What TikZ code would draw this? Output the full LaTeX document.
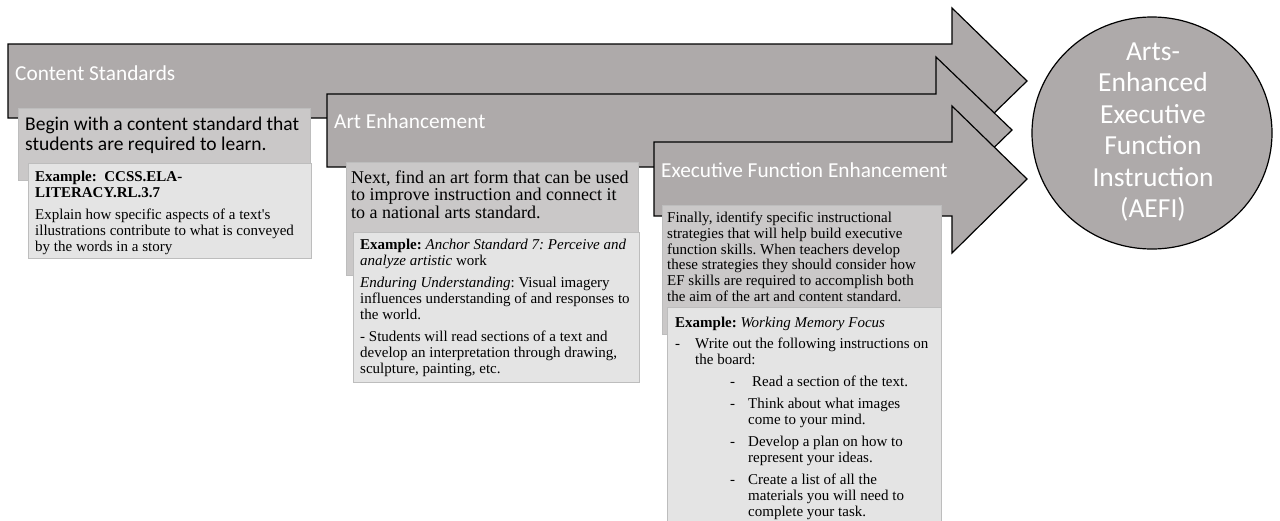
\documentclass[tikz,border=0pt]{standalone}
\usepackage{fontspec}
\setmainfont{Liberation Serif}
\newfontfamily\calibri{Carlito}
\usetikzlibrary{positioning}

\definecolor{arrowgray}{HTML}{AEAAAA}
\definecolor{stepgray}{HTML}{CAC8C8}
\definecolor{examplegray}{HTML}{E4E4E4}
\definecolor{edgegray}{HTML}{BDBDBD}

\begin{document}
\frenchspacing
\begin{tikzpicture}[x=1pt, y=-1pt,
    bigarrow/.style={fill=arrowgray, draw=black, line width=1.2pt, line join=miter},
    stepbox/.style={fill=stepgray, draw=edgegray, line width=0.6pt},
    examplebox/.style={fill=examplegray, draw=edgegray, line width=0.6pt},
    arrowlabel/.style={anchor=base west, inner sep=0pt, text=white,
      font=\calibri\fontsize{21.3}{25}\selectfont},
    steptext/.style={anchor=north west, inner sep=0pt, align=left},
    smalltext/.style={steptext, font=\fontsize{15}{16}\selectfont}]

  \useasboundingbox (0,0) rectangle (1280,520);

  % content standards
  \draw[bigarrow] (8,44) -- (952,44) -- (952,8) -- (1027,81) -- (952,154)
    -- (952,118) -- (8,118) -- cycle;
  \node[arrowlabel] (content) at (15,80) {Content Standards};
  \draw[stepbox] (18,108) rectangle (310,180);
  \node[steptext, font=\calibri\fontsize{19.5}{20.5}\selectfont] (begin) at (25,116.5)
    {Begin with a content standard that\\students are required to learn.};
  \draw[examplebox] (28,163) rectangle (311,258);
  \node[smalltext] (ccss) at (35,171)
    {\textbf{Example:\ \ CCSS.ELA-}\\\textbf{LITERACY.RL.3.7}\\[6pt]
     Explain how specific aspects of a text\textquotesingle s\\
     illustrations contribute to what is conveyed\\
     by the words in a story};

  % art enhancement
  \draw[bigarrow] (327,94) -- (936,94) -- (936,57) -- (1012,130) -- (936,204)
    -- (936,167) -- (327,167) -- cycle;
  \node[arrowlabel] (art) at (334,128) {Art Enhancement};
  \draw[stepbox] (346,162) rectangle (638,275);
  \node[steptext, font=\fontsize{18}{17.6}\selectfont] (next) at (351,170.5)
    {Next, find an art form that can be used\\
     to improve instruction and connect it\\
     to a national arts standard.};
  \draw[examplebox] (353,232) rectangle (639,382);
  \node[smalltext] (anchor7) at (360,239)
    {\textbf{Example:} \textit{Anchor Standard 7: Perceive and}\\
     \textit{analyze artistic} work\\[6pt]
     \textit{Enduring Understanding}: Visual imagery\\
     influences understanding of and responses to\\
     the world.\\[6pt]
     - Students will read sections of a text and\\
     develop an interpretation through drawing,\\
     sculpture, painting, etc.};

  % executive function enhancement
  \draw[bigarrow] (654,142) -- (952,142) -- (952,106) -- (1027,179) -- (952,253)
    -- (952,216) -- (654,216) -- cycle;
  \node[arrowlabel] (ef) at (661,177) {Executive Function Enhancement};
  \draw[stepbox] (662,205) rectangle (941,334);
  \node[steptext, font=\fontsize{15}{15.7}\selectfont] (finally) at (667,212)
    {Finally, identify specific instructional\\
     strategies that will help build executive\\
     function skills. When teachers develop\\
     these strategies they should consider how\\
     EF skills are required to accomplish both\\
     the aim of the art and content standard.};
  \draw[examplebox] (667,307) rectangle (941,522);
  \node[smalltext] (memory) at (675,317)
    {\textbf{Example:} \textit{Working Memory Focus}\\[5pt]
     \makebox[20pt][l]{-}Write out the following instructions on\\
     \hspace*{20pt}the board:\\[6pt]
     \hspace*{55pt}\makebox[18pt][l]{-}\hspace{4pt}Read a section of the text.\\[6pt]
     \hspace*{55pt}\makebox[18pt][l]{-}Think about what images\\
     \hspace*{73pt}come to your mind.\\[6pt]
     \hspace*{55pt}\makebox[18pt][l]{-}Develop a plan on how to\\
     \hspace*{73pt}represent your ideas.\\[6pt]
     \hspace*{55pt}\makebox[18pt][l]{-}Create a list of all the\\
     \hspace*{73pt}materials you will need to\\
     \hspace*{73pt}complete your task.};

  % goal
  \draw[bigarrow] (1152,133) ellipse [x radius=120pt, y radius=116pt];
  \node[align=center, text=white, font=\calibri\fontsize{27.5}{31.5}\selectfont] (aefi) at (1153,132)
    {Arts-\\Enhanced\\Executive\\Function\\Instruction\\(AEFI)};
\end{tikzpicture}
\end{document}
